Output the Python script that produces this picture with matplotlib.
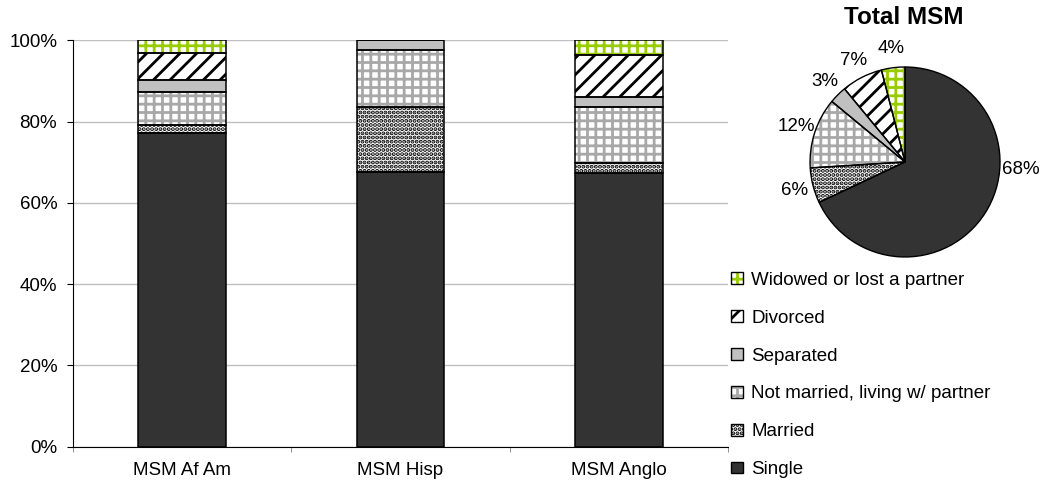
import numpy as np
import matplotlib
matplotlib.use("Agg")
import matplotlib.pyplot as plt
from matplotlib.patches import Patch

plt.rcParams["font.family"] = ["Liberation Sans", "DejaVu Sans"]
plt.rcParams["hatch.linewidth"] = 2.0

groups = ["MSM Af Am", "MSM Hisp", "MSM Anglo"]
statuses = ["Single", "Married", "Not married, living w/ partner",
            "Separated", "Divorced", "Widowed or lost a partner"]

# percent of each group, bottom to top
single = [77.1, 67.5, 67.4]
married = [2.0, 16.0, 2.3]
not_married = [8.2, 14.1, 13.9]
separated = [2.9, 2.4, 2.4]
divorced = [6.8, 0.0, 10.4]
widowed = [3.0, 0.0, 3.6]

# whole sample, for the pie
total_msm = [68, 6, 12, 3, 7, 4]

# face colour, hatch, hatch colour per status
styles = [
    ("#333333", "", "#333333"),
    ("white", "....", "black"),
    ("white", "++", "#a8a8a8"),
    ("#c0c0c0", "", "#c0c0c0"),
    ("white", "//", "black"),
    ("white", "++", "#99cc00"),
]


def main():
    fig = plt.figure(figsize=(10.42, 4.91), dpi=100)
    ax = fig.add_axes([0.070, 0.0902, 0.6287, 0.8277])

    series = [single, married, not_married, separated, divorced, widowed]
    x = np.arange(len(groups))
    bottom = np.zeros(len(groups))
    for vals, (fc, hatch, hc) in zip(series, styles):
        v = np.array(vals) / 100.0
        ax.bar(x, v, 0.4, bottom=bottom, color=fc, hatch=hatch,
               edgecolor=hc, linewidth=0, zorder=2)
        ax.bar(x, v, 0.4, bottom=bottom, fill=False,
               edgecolor="black", linewidth=1.1, zorder=3)
        bottom += v

    ax.set_xlim(-0.5, len(groups) - 0.5)
    ax.set_ylim(0, 1)
    yt = np.arange(0, 1.01, 0.2)
    ax.set_yticks(yt)
    ax.set_yticklabels([f"{int(round(t * 100))}%" for t in yt])
    ax.set_xticks(x)
    ax.set_xticklabels(groups)
    ax.set_xticks(np.arange(-0.5, len(groups), 1), minor=True)
    ax.tick_params(axis="x", which="major", length=0, pad=11, labelsize=13.5)
    ax.tick_params(axis="x", which="minor", length=3.6, color="#808080")
    ax.tick_params(axis="y", length=4.3, pad=7, labelsize=13.5)
    ax.yaxis.grid(True, color="#c0c0c0", linewidth=1)
    ax.set_axisbelow(True)
    for s in ["top", "right"]:
        ax.spines[s].set_visible(False)

    # pie of the whole sample
    pax = fig.add_axes([0.7774, 0.4766, 0.1823, 0.387])
    fcs = [s[0] for s in styles]
    wedges, texts = pax.pie(total_msm, colors=fcs, startangle=90,
                            counterclock=False, radius=1,
                            labels=[f"{v}%" for v in total_msm],
                            labeldistance=1.2,
                            textprops={"fontsize": 13.5},
                            wedgeprops={"linewidth": 0})
    for w, (fc, hatch, hc) in zip(wedges, styles):
        w.set_hatch(hatch)
        w.set_edgecolor(hc)
    pax.pie(total_msm, startangle=90, counterclock=False, radius=1,
            wedgeprops={"fill": False, "edgecolor": "black", "linewidth": 1})
    for t in texts:
        t.set_ha("center")
    # the big slice's label sits to the right, as in the original
    texts[0].set_position((1.02, -0.08))
    texts[0].set_ha("left")
    pax.set_xlim(-1, 1)
    pax.set_ylim(-1, 1)
    pax.set_aspect("equal")
    fig.text(0.867, 0.965, "Total MSM", ha="center", va="center",
             fontsize=17.5, fontweight="bold")

    handles = []
    for fc, hatch, hc in styles:
        handles.append((Patch(facecolor=fc, hatch=hatch, edgecolor=hc, linewidth=0),
                        Patch(fill=False, edgecolor="black", linewidth=1)))
    fig.legend(handles[::-1], statuses[::-1], loc="upper left",
               bbox_to_anchor=(0.702, 0.446), frameon=False, fontsize=13.5,
               handlelength=0.6, handleheight=0.6, handletextpad=0.45,
               labelspacing=1.11, borderpad=0, borderaxespad=0)

    fig.savefig("out.png", dpi=100)


if __name__ == "__main__":
    main()
